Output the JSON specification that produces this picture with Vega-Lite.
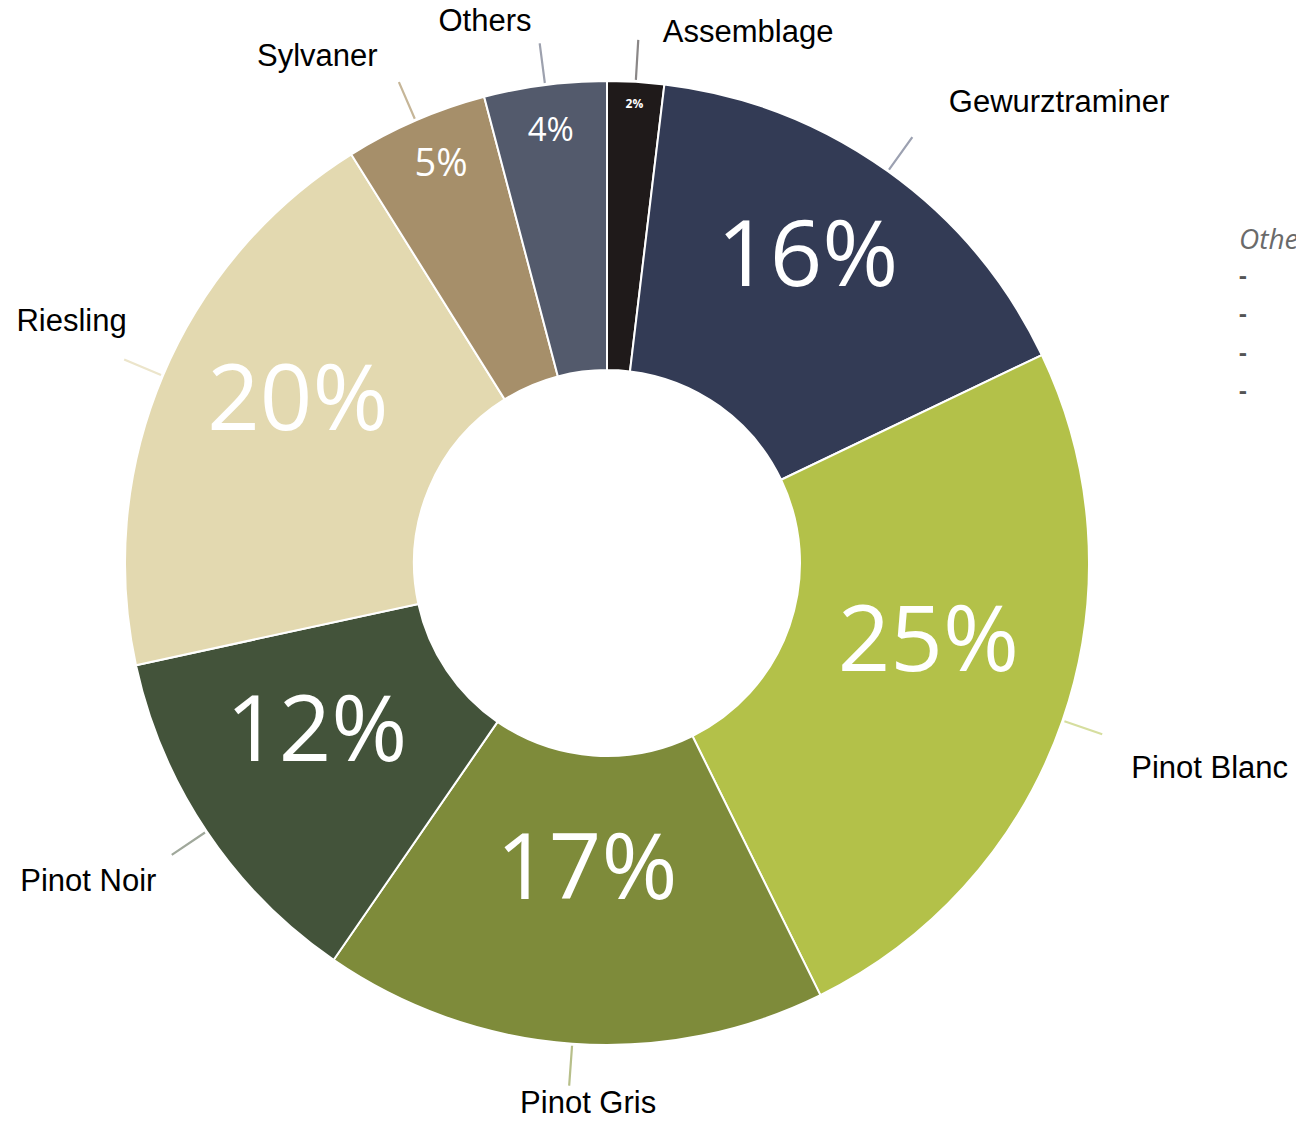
{
  "$schema": "https://vega.github.io/schema/vega-lite/v6.json",
  "autosize": {"type": "none"},
  "padding": {"left": 0, "top": 5, "right": 82, "bottom": 0},
  "width": 1214,
  "height": 1116,
  "background": "white",
  "config": {"view": {"stroke": null}},
  "title": {
    "text": "Others:",
    "subtitle": ["-", "-", "-", "-"],
    "orient": "top",
    "anchor": "start",
    "frame": "group",
    "align": "left",
    "dx": 1239,
    "dy": 506,
    "font": "Open Sans",
    "fontStyle": "italic",
    "fontWeight": "normal",
    "fontSize": 28,
    "color": "#6a6a6a",
    "subtitleFont": "Open Sans",
    "subtitleFontSize": 24,
    "subtitleFontWeight": "bold",
    "subtitleColor": "#555555",
    "subtitleLineHeight": 38.5,
    "subtitlePadding": 10
  },
  "data": {
    "values": [
      {"variety": "Assemblage", "share": 1.9, "label": "2%", "ord": 1},
      {"variety": "Gewurztraminer", "share": 16.0, "label": "16%", "ord": 2},
      {"variety": "Pinot Blanc", "share": 24.8, "label": "25%", "ord": 3},
      {"variety": "Pinot Gris", "share": 16.9, "label": "17%", "ord": 4},
      {"variety": "Pinot Noir", "share": 12.0, "label": "12%", "ord": 5},
      {"variety": "Riesling", "share": 19.5, "label": "20%", "ord": 6},
      {"variety": "Sylvaner", "share": 4.8, "label": "5%", "ord": 7},
      {"variety": "Others", "share": 4.1, "label": "4%", "ord": 8}
    ]
  },
  "encoding": {
    "theta": {"field": "share", "type": "quantitative", "stack": true, "scale": {"domain": [0, 100]}},
    "order": {"field": "ord", "type": "quantitative"}
  },
  "layer": [
    {
      "mark": {"type": "arc", "radius": 482, "radius2": 193, "stroke": "white", "strokeWidth": 2},
      "encoding": {
        "color": {
          "field": "variety", "type": "nominal", "legend": null,
          "scale": {
            "domain": ["Assemblage", "Gewurztraminer", "Pinot Blanc", "Pinot Gris", "Pinot Noir", "Riesling", "Sylvaner", "Others"],
            "range": ["#1f1a1a", "#333b55", "#b3c149", "#7e8b3a", "#43533a", "#e3d9b0", "#a68f6a", "#535a6c"]
          }
        }
      }
    },
    {
      "mark": {"type": "arc", "radius": 524, "radius2": 484, "padAngle": 3, "filled": false, "strokeWidth": 2.2, "strokeCap": "round"},
      "encoding": {
        "stroke": {
          "field": "variety", "type": "nominal", "legend": null,
          "scale": {
            "domain": ["Assemblage", "Gewurztraminer", "Pinot Blanc", "Pinot Gris", "Pinot Noir", "Riesling", "Sylvaner", "Others"],
            "range": ["#8a8787", "#9ca1b1", "#d6de9f", "#b7bf8a", "#a0a89b", "#ece5cb", "#c6b698", "#9da1ae"]
          }
        }
      }
    },
    {"mark": {"type": "text", "radius": 460, "thetaOffset": 0, "font": "Open Sans", "fontWeight": "bold", "fontSize": 12, "fill": "white", "align": "center", "baseline": "middle"},
     "encoding": {"text": {"condition": {"test": "datum.variety === 'Assemblage'", "field": "label", "type": "nominal"}, "value": ""}}},
    {"mark": {"type": "text", "radius": 369, "thetaOffset": -0.047, "font": "Open Sans", "fontSize": 92, "fill": "white", "align": "center", "baseline": "middle", "dy": 5},
     "encoding": {"text": {"condition": {"test": "datum.variety === 'Gewurztraminer'", "field": "label", "type": "nominal"}, "value": ""}}},
    {"mark": {"type": "text", "radius": 330, "thetaOffset": -0.1035, "font": "Open Sans", "fontSize": 92, "fill": "white", "align": "center", "baseline": "middle", "dy": 5},
     "encoding": {"text": {"condition": {"test": "datum.variety === 'Pinot Blanc'", "field": "label", "type": "nominal"}, "value": ""}}},
    {"mark": {"type": "text", "radius": 304, "thetaOffset": -0.006, "font": "Open Sans", "fontSize": 92, "fill": "white", "align": "center", "baseline": "middle", "dy": 5},
     "encoding": {"text": {"condition": {"test": "datum.variety === 'Pinot Gris'", "field": "label", "type": "nominal"}, "value": ""}}},
    {"mark": {"type": "text", "radius": 334, "thetaOffset": 0.0733, "font": "Open Sans", "fontSize": 92, "fill": "white", "align": "center", "baseline": "middle", "dy": 5},
     "encoding": {"text": {"condition": {"test": "datum.variety === 'Pinot Noir'", "field": "label", "type": "nominal"}, "value": ""}}},
    {"mark": {"type": "text", "radius": 351, "thetaOffset": 0.0941, "font": "Open Sans", "fontSize": 92, "fill": "white", "align": "center", "baseline": "middle", "dy": 5},
     "encoding": {"text": {"condition": {"test": "datum.variety === 'Riesling'", "field": "label", "type": "nominal"}, "value": ""}}},
    {"mark": {"type": "text", "radius": 433, "thetaOffset": 0.015, "font": "Open Sans", "fontSize": 38, "fill": "white", "align": "center", "baseline": "middle", "dy": 2},
     "encoding": {"text": {"condition": {"test": "datum.variety === 'Sylvaner'", "field": "label", "type": "nominal"}, "value": ""}}},
    {"mark": {"type": "text", "radius": 438, "thetaOffset": 0, "font": "Open Sans", "fontSize": 33, "fill": "white", "align": "center", "baseline": "middle", "dy": 2},
     "encoding": {"text": {"condition": {"test": "datum.variety === 'Others'", "field": "label", "type": "nominal"}, "value": ""}}},
    {"mark": {"type": "text", "radius": 548, "thetaOffset": 0.2007, "font": "Liberation Sans", "fontSize": 31, "fill": "black", "align": "center", "baseline": "middle"},
     "encoding": {"text": {"condition": {"test": "datum.variety === 'Assemblage'", "field": "variety", "type": "nominal"}, "value": ""}}},
    {"mark": {"type": "text", "radius": 645, "thetaOffset": 0.1546, "font": "Liberation Sans", "fontSize": 31, "fill": "black", "align": "center", "baseline": "middle"},
     "encoding": {"text": {"condition": {"test": "datum.variety === 'Gewurztraminer'", "field": "variety", "type": "nominal"}, "value": ""}}},
    {"mark": {"type": "text", "radius": 637, "thetaOffset": -0.003, "font": "Liberation Sans", "fontSize": 31, "fill": "black", "align": "center", "baseline": "middle"},
     "encoding": {"text": {"condition": {"test": "datum.variety === 'Pinot Blanc'", "field": "variety", "type": "nominal"}, "value": ""}}},
    {"mark": {"type": "text", "radius": 541, "thetaOffset": -0.0374, "font": "Liberation Sans", "fontSize": 31, "fill": "black", "align": "center", "baseline": "middle"},
     "encoding": {"text": {"condition": {"test": "datum.variety === 'Pinot Gris'", "field": "variety", "type": "nominal"}, "value": ""}}},
    {"mark": {"type": "text", "radius": 609, "thetaOffset": 0.0391, "font": "Liberation Sans", "fontSize": 31, "fill": "black", "align": "center", "baseline": "middle"},
     "encoding": {"text": {"condition": {"test": "datum.variety === 'Pinot Noir'", "field": "variety", "type": "nominal"}, "value": ""}}},
    {"mark": {"type": "text", "radius": 587, "thetaOffset": 0.0234, "font": "Liberation Sans", "fontSize": 31, "fill": "black", "align": "center", "baseline": "middle"},
     "encoding": {"text": {"condition": {"test": "datum.variety === 'Riesling'", "field": "variety", "type": "nominal"}, "value": ""}}},
    {"mark": {"type": "text", "radius": 583, "thetaOffset": -0.1117, "font": "Liberation Sans", "fontSize": 31, "fill": "black", "align": "center", "baseline": "middle"},
     "encoding": {"text": {"condition": {"test": "datum.variety === 'Sylvaner'", "field": "variety", "type": "nominal"}, "value": ""}}},
    {"mark": {"type": "text", "radius": 555, "thetaOffset": -0.0929, "font": "Liberation Sans", "fontSize": 31, "fill": "black", "align": "center", "baseline": "middle"},
     "encoding": {"text": {"condition": {"test": "datum.variety === 'Others'", "field": "variety", "type": "nominal"}, "value": ""}}}
  ]
}
